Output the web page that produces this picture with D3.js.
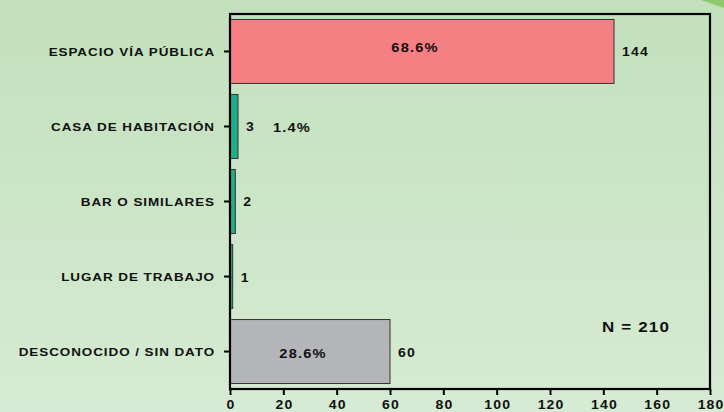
<!DOCTYPE html>
<html>
<head>
<meta charset="utf-8">
<script src="https://cdn.jsdelivr.net/npm/d3@7"></script>
<style>
  html, body { margin: 0; padding: 0; }
  body { width: 724px; height: 412px; overflow: hidden; }
  text { font-family: "Liberation Sans", Arial, sans-serif; font-weight: bold; fill: #111; }
</style>
</head>
<body>
<svg id="chart" width="724" height="412"></svg>
<script>
// data
const categories = ["ESPACIO VÍA PÚBLICA", "CASA DE HABITACIÓN", "BAR O SIMILARES", "LUGAR DE TRABAJO", "DESCONOCIDO / SIN DATO"];
const counts = [144, 3, 2, 1, 60];
const barColors = ["#f67f84", "#1fae8b", "#1fae8b", "#1fae8b", "#b4b5b8"];
const pctShown = ["ESPACIO VÍA PÚBLICA", "CASA DE HABITACIÓN", "DESCONOCIDO / SIN DATO"];
const total = 210;
const xTicks = [0, 20, 40, 60, 80, 100, 120, 140, 160, 180];

const svg = d3.select("#chart");
const W = 724, H = 412;
const margin = { top: 14, right: 14, bottom: 23, left: 230 };
const stretch = 1.17; // the original text is a bit wide

// stretch a text horizontally, keeping its anchor point at x
function widen(sel) {
    sel.each(function() {
        const t = d3.select(this);
        const x0 = +t.attr("x") || 0;
        t.attr("x", x0 / stretch).attr("transform", `scale(${stretch},1)`);
    });
}

// background
const defs = svg.append("defs");
const grad = defs.append("linearGradient").attr("id", "bg").attr("x1", 0).attr("y1", 0).attr("x2", 0).attr("y2", 1);
grad.append("stop").attr("offset", "0%").attr("stop-color", "#c2e0bc");
grad.append("stop").attr("offset", "100%").attr("stop-color", "#d6ebd3");
svg.append("rect").attr("width", W).attr("height", H).attr("fill", "url(#bg)");

// corner decoration
svg.append("path")
    .attr("d", "M701,0 L724,0 L724,8 Z")
    .attr("fill", "#8fc96c");

const x = d3.scaleLinear().domain([0, 180]).range([margin.left, W - margin.right]);
const y = d3.scaleBand().domain(categories).range([margin.top, H - margin.bottom]).paddingInner(0.147).paddingOuter(0.073);

const g = svg.append("g");

// bars
g.selectAll(".bar")
    .data(categories)
    .enter()
    .append("rect")
    .attr("class", "bar")
    .attr("x", x(0))
    .attr("y", d => y(d))
    .attr("width", (d, i) => x(counts[i]) - x(0))
    .attr("height", y.bandwidth())
    .attr("fill", (d, i) => barColors[i])
    .attr("stroke", "#333")
    .attr("stroke-width", 1);

// value labels
g.selectAll(".val")
    .data(categories)
    .enter()
    .append("text")
    .attr("class", "val")
    .attr("x", (d, i) => x(counts[i]) + 8)
    .attr("y", d => y(d) + y.bandwidth() / 2 + 5)
    .attr("font-size", "12px")
    .attr("letter-spacing", "1px")
    .text((d, i) => counts[i])
    .call(widen);

// percent labels
g.selectAll(".pct")
    .data(pctShown)
    .enter()
    .append("text")
    .attr("class", "pct")
    .attr("text-anchor", "middle")
    .attr("x", d => {
        const v = counts[categories.indexOf(d)];
        return v > 20 ? x(v / 2) - 7 : x(v) + 54;
    })
    .attr("y", d => y(d) + y.bandwidth() / 2 + (counts[categories.indexOf(d)] > 100 ? 1 : 6))
    .attr("font-size", "12.5px")
    .attr("letter-spacing", "1px")
    .text(d => d3.format(".1f")(counts[categories.indexOf(d)] / total * 100) + "%")
    .call(widen);

// axes
const yAxis = g.append("g")
    .attr("transform", `translate(${margin.left},0)`)
    .call(d3.axisLeft(y).tickSize(6).tickPadding(9));
yAxis.select(".domain").remove();
yAxis.selectAll("line").attr("stroke", "#000").attr("stroke-width", 2);
yAxis.selectAll("text")
    .attr("font-size", "11.5px")
    .attr("letter-spacing", "0.8px")
    .attr("fill", "#111")
    .attr("dy", "0.36em")
    .call(widen);

const xAxis = g.append("g")
    .attr("transform", `translate(0,${H - margin.bottom})`)
    .call(d3.axisBottom(x).tickValues(xTicks).tickSize(6).tickPadding(5).tickSizeOuter(0));
xAxis.select(".domain").remove();
xAxis.selectAll("line").attr("stroke", "#000").attr("stroke-width", 2);
xAxis.selectAll("text")
    .attr("font-size", "12px")
    .attr("letter-spacing", "1px")
    .attr("dx", "0.5px")
    .attr("fill", "#111")
    .call(widen);

// frame
g.append("rect")
    .attr("x", margin.left)
    .attr("y", margin.top)
    .attr("width", W - margin.right - margin.left)
    .attr("height", H - margin.bottom - margin.top)
    .attr("fill", "none")
    .attr("stroke", "#000")
    .attr("stroke-width", 2.2);

// N label
g.append("text")
    .attr("x", 636)
    .attr("y", 332)
    .attr("text-anchor", "middle")
    .attr("font-size", "14.5px")
    .attr("letter-spacing", "1px")
    .text("N = " + total)
    .call(widen);
</script>
</body>
</html>
